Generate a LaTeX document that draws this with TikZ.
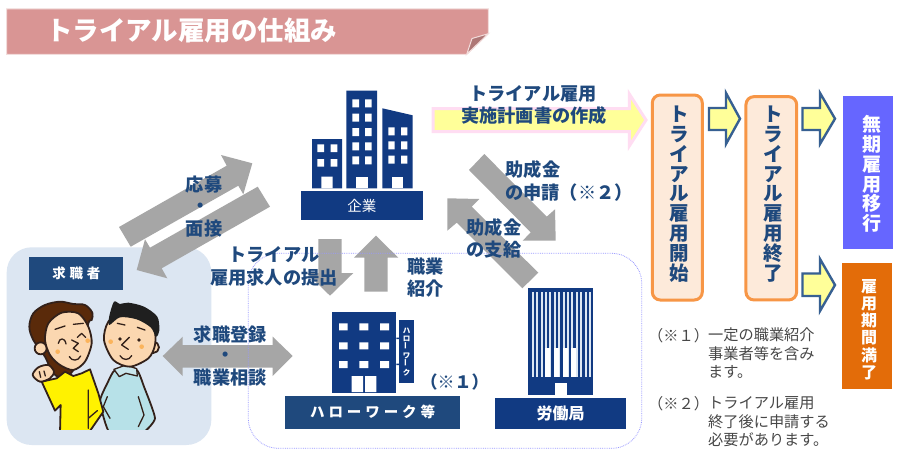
\documentclass[tikz,border=0pt]{standalone}
\usepackage{fontspec}
\setmainfont{Noto Sans CJK JP}
\definecolor{navy}{HTML}{113A82}
\definecolor{lab}{HTML}{1F497D}
\definecolor{grayarrow}{HTML}{A6A6A6}
\definecolor{pinkline}{HTML}{FFDDF2}
\definecolor{paleyellow}{HTML}{FFFF99}
\definecolor{arrowblue}{HTML}{376092}
\definecolor{skin}{HTML}{FBD7B0}
\definecolor{ink}{HTML}{33211A}
\definecolor{bannerfill}{HTML}{D99594}
\definecolor{bannerline}{HTML}{F2DCDB}
\definecolor{bannerfold}{HTML}{AE7776}
\definecolor{panelblue}{HTML}{DCE6F2}
\definecolor{shirtblue}{HTML}{B7E1E8}
\definecolor{collarblue}{HTML}{C9E6EC}
\definecolor{cheek}{HTML}{FBB45C}
\definecolor{hairbrown}{HTML}{5A2A0A}
\definecolor{shirtyellow}{HTML}{FFF200}
\definecolor{framedot}{HTML}{9999FF}
\definecolor{stagefill}{HTML}{FDEADA}
\definecolor{stageline}{HTML}{F79646}
\definecolor{permblue}{HTML}{6666FF}
\definecolor{expireorange}{HTML}{E36C09}
\tikzset{
  gray arrow/.style={fill=grayarrow,draw=none},
  label text/.style={text=lab,font=\bfseries\fontsize{18.2}{22}\selectfont,inner sep=0pt},
  note text/.style={text=black!72,font=\fontsize{15.2}{18.4}\selectfont,inner sep=0pt,anchor=north west,align=left},
  bldg/.style={fill=navy,draw=none},
  win/.style={fill=white,draw=none},
  flow arrow/.style={fill=paleyellow,draw=arrowblue,line width=2.4pt,miter limit=10},
  stack/.style={align=center,inner sep=0pt,text=lab},
  ink line/.style={draw=ink,line width=1.8pt,line join=round,line cap=round},
  ink fine/.style={draw=ink,line width=1.3pt,line join=round,line cap=round},
}
\begin{document}
\begin{tikzpicture}[x=1pt,y=-1pt]
\useasboundingbox (0,0) rectangle (909,460);
\fill[white] (0,0) rectangle (909,460);

% title banner
\filldraw[fill=bannerfill,draw=bannerline,line width=1pt] (6.7,9) -- (488.3,9) -- (488.3,33.7) -- (466.7,54.3) -- (6.7,54.3) -- cycle;
\filldraw[fill=bannerfold,draw=bannerline,line width=1pt] (466.7,54.3) -- (472,38.5) -- (488.3,33.7) -- cycle;
\node[anchor=west,text=white,font=\bfseries\fontsize{26.5}{30}\selectfont,inner sep=0pt] (title) at (46,31) {トライアル雇用の仕組み};

% job seeker panel
\fill[panelblue,rounded corners=25pt] (6.7,247.3) rectangle (211.3,445);
\node[fill=lab,minimum width=94pt,minimum height=32.4pt,inner sep=0pt,text=white,font=\bfseries\fontsize{13.5}{16}\selectfont] (seeker) at (76.3,273.5) {\addfontfeature{LetterSpace=28}求職者};

% people
\begin{scope}[shift={(20,290)},x=0.3333pt,y=-0.3333pt]
\clip (0,0) rectangle (450,418);
% man body
\filldraw[fill=shirtblue,ink line] plot[smooth cycle,tension=0.3] coordinates {(285,240) (350,240) (372,290) (405,385) (365,430) (270,430) (240,335) (262,280)};
\draw[ink fine] (355,320) -- (372,375) -- (355,410);
\draw[ink fine] (262,320) -- (250,350) -- (270,385);
\filldraw[fill=collarblue,ink fine] (282,238) -- (298,260) -- (318,250) -- (352,258) -- (350,236) -- (318,225) -- cycle;
% man head
\filldraw[fill=skin,ink line] (400,172) circle (17);
\filldraw[fill=skin,ink line] plot[smooth cycle] coordinates {(252,150) (265,95) (310,65) (365,72) (402,115) (405,165) (385,205) (330,230) (280,210)};
\fill[black!88] plot[smooth cycle,tension=0.5] coordinates {(268,78) (282,35) (300,42) (325,38) (372,50) (412,80) (418,122) (408,140) (392,112) (350,88) (300,82) (268,105)};
\fill[cheek] (272,155) circle (7) (365,170) circle (7);
\fill[ink] (300,147) circle (5.5) (357,150) circle (5.5);
\draw[ink fine] (292,100) -- (315,105) (352,112) -- (375,120) (328,142) -- (305,165) -- (325,178);
\draw[ink fine] (300,197) .. controls (308,212) and (328,212) .. (335,197);
% woman back hair
\filldraw[fill=hairbrown,ink line] plot[smooth cycle,tension=0.55] coordinates {(28,110) (40,70) (75,45) (120,35) (160,42) (195,45) (217,68) (215,90) (205,100) (190,190) (140,262) (100,250) (75,200) (40,150)};
% woman body
\filldraw[fill=shirtyellow,ink line] (65,275) -- (105,362) -- (122,345) -- (120,430) -- (205,430) -- (250,365) -- (235,310) -- (210,238) -- (185,250) -- (160,258) -- (135,245) -- (110,265) -- cycle;
\draw[ink fine] (205,300) -- (205,415) (205,385) -- (232,362);
% woman head
\filldraw[fill=skin,ink line] (62,175) circle (18);
\filldraw[fill=skin,ink line] plot[smooth cycle] coordinates {(75,150) (85,100) (125,68) (175,70) (205,110) (215,160) (195,215) (160,240) (120,225) (90,195)};
\fill[cheek] (113,185) circle (7) (203,152) circle (7);
\draw[ink fine] (105,118) -- (135,108) (160,103) -- (190,100) (172,142) -- (185,130) -- (197,142);
\draw[ink fine] (115,160) .. controls (118,142) and (135,142) .. (138,162);
\draw[ink fine] (155,150) -- (175,160) -- (160,175) -- (175,185);
\draw[ink fine] (148,200) .. controls (155,214) and (175,214) .. (182,198);
% fist
\filldraw[fill=skin,ink line] plot[smooth cycle] coordinates {(38,255) (55,232) (85,225) (102,245) (90,265) (60,275)};
\draw[ink fine] (58,245) -- (62,262) (72,243) -- (76,258);
\end{scope}

% gray block arrows
\fill[gray arrow] (119,227) -- (226.7,165.7) -- (221,155) -- (252.3,163.3) -- (243.3,194.3) -- (238.3,185.7) -- (130.7,246.7) -- cycle;
\fill[gray arrow] (257.7,186.7) -- (150,247.7) -- (145,239.3) -- (136.7,270) -- (167.3,278.3) -- (161.7,268.3) -- (270,206.7) -- cycle;
\fill[gray arrow] (318.3,239) -- (341.7,239) -- (341.7,273) -- (353.3,273) -- (330,295.7) -- (306.7,273) -- (318.3,273) -- cycle;
\fill[gray arrow] (376,235.7) -- (398.3,257.7) -- (387.7,257.7) -- (387.7,291.7) -- (364.3,291.7) -- (364.3,257.7) -- (354,257.7) -- cycle;
\fill[gray arrow] (484.3,154) -- (546.7,216.7) -- (555,209.3) -- (555.7,240.7) -- (522.7,240.7) -- (530.7,232.3) -- (469,170) -- cycle;
\fill[gray arrow] (447.3,198.3) -- (479.3,199) -- (471.7,206.7) -- (538.3,272.7) -- (522.3,288.3) -- (456.7,222.7) -- (447.3,230.7) -- cycle;
\fill[gray arrow] (162.7,356) -- (182.7,336.7) -- (182.7,345) -- (272.7,345) -- (272.7,336.7) -- (292.7,356) -- (272.7,376) -- (272.7,367.7) -- (182.7,367.7) -- (182.7,376) -- cycle;

% dotted frame
\draw[framedot,line width=0.8pt,densely dotted,rounded corners=30pt] (248.3,253.3) rectangle (641.7,448.3);

% company building
\fill[bldg] (312,139) rectangle (342,188.3) (346.3,90.7) rectangle (377,188.3);
\fill[bldg] (382.3,108.3) -- (412.7,115.3) -- (412.7,188.3) -- (382.3,188.3) -- cycle;
\fill[win] (317.3,144.3) rectangle (324,152) (330.7,144.3) rectangle (337.3,152) (317.3,159) rectangle (324,166.7) (330.7,159) rectangle (337.3,166.7) (321.3,176.7) rectangle (332.7,188.3);
\foreach \yy in {99.3,113.7,128,142.3,156.3}{\fill[win] (352.3,\yy) rectangle +(6.7,8) (365,\yy) rectangle +(6.7,8);}
\fill[win] (355.7,176.7) rectangle (367.7,188.3);
\foreach \yy in {127.3,141.3,155.7}{\fill[win] (388.3,\yy) rectangle +(6.4,8) (401,\yy) rectangle +(6.4,8);}
\fill[win] (391.7,176.7) rectangle (403.3,188.3);
\node[fill=navy,minimum width=121.7pt,minimum height=29.3pt,inner sep=0pt,text=white,font=\fontsize{14.5}{16}\selectfont] (company) at (361.85,205.65) {企業};

% Hello Work building
\fill[bldg] (331.7,311.7) rectangle (396.3,393);
\foreach \yy in {323.3,342.3,361}{\fill[win] (339,\yy) rectangle +(8.7,7) (359.3,\yy) rectangle +(9,7) (380,\yy) rectangle +(9,7);}
\fill[win] (351.7,376) rectangle (363,392) (365,376) rectangle (376.3,392);
\fill[bldg] (396.3,337.5) rectangle (399,339) (396.3,363.5) rectangle (399,365);
\node[fill=navy,minimum width=15.3pt,minimum height=63.3pt,inner sep=0pt,text=white,align=center,font=\bfseries\fontsize{7.5}{8.4}\selectfont] (hwsign) at (406.65,351.65) {ハ\\ロ\\\rotatebox{90}{ー}\\ワ\\\rotatebox{90}{ー}\\ク};
\node[fill=lab,minimum width=174.7pt,minimum height=33pt,inner sep=0pt,text=white,font=\bfseries\fontsize{14.5}{16}\selectfont] (hw) at (372.65,412.2) {\addfontfeature{LetterSpace=27}ハローワーク等};
\node[label text,font=\bfseries\fontsize{17}{20}\selectfont] (n1) at (454.5,381.7) {（※１）};

% Labour bureau building
\fill[bldg] (527.7,288.3) rectangle (593.3,395);
\foreach \i in {0,...,13}{\fill[panelblue] ({531.7+4.42*\i},291.5) rectangle +(2,85.8);}
\foreach \xx in {545.3,554,562.7,571.3}{\fill[win] (\xx,348) rectangle +(5,29.3);}
\fill[win] (555,382.7) rectangle (566.7,395);
\node[fill=navy,minimum width=130.7pt,minimum height=31.6pt,inner sep=0pt,text=white,font=\bfseries\fontsize{16}{18}\selectfont] (bureau) at (560.65,413.5) {労働局};

% plan arrow
\filldraw[fill=paleyellow,draw=pinkline,line width=3pt,miter limit=10] (433,108.5) -- (629.3,108.5) -- (629.3,94) -- (646,120) -- (629.3,146) -- (629.3,131.5) -- (433,131.5) -- cycle;

% labels
\node[label text] (l1) at (533,94) {トライアル雇用};
\node[label text] (l2) at (534,116) {実施計画書の作成};
\node[label text,anchor=west] (l3) at (505.5,169.3) {助成金};
\node[label text,anchor=west] (l4) at (505,192.3) {の申請（※２）};
\node[label text,anchor=west] (l5) at (466.5,227.3) {助成金};
\node[label text,anchor=west] (l6) at (466.5,250) {の支給};
\node[label text] (l7) at (204,185) {応募};
\node[label text] (l8) at (200.7,207.7) {・};
\node[label text] (l9) at (204,228.3) {面接};
\node[label text] (l10) at (274,255) {トライアル};
\node[label text] (l11) at (274,277.3) {雇用求人の提出};
\node[label text] (l12) at (425.8,266.7) {職業};
\node[label text] (l13) at (425.8,288.3) {紹介};
\node[label text] (l14) at (230.3,334.3) {求職登録};
\node[label text] (l15) at (226,356.7) {・};
\node[label text] (l16) at (230.3,377.7) {職業相談};

% stage boxes
\node[rounded corners=8pt,fill=stagefill,draw=stageline,line width=3pt,minimum width=50pt,minimum height=205pt,inner sep=0pt] (start) at (677.3,197.5) {};
\node[rounded corners=8pt,fill=stagefill,draw=stageline,line width=3pt,minimum width=50.7pt,minimum height=203.3pt,inner sep=0pt] (end) at (771.3,198.3) {};
\node[stack,font=\bfseries\fontsize{19.5}{19.8}\selectfont] (starttxt) at (679,194) {ト\\ラ\\イ\\ア\\ル\\雇\\用\\開\\始};
\node[stack,font=\bfseries\fontsize{19.5}{19.8}\selectfont] (endtxt) at (773,194) {ト\\ラ\\イ\\ア\\ル\\雇\\用\\終\\了};

% flow arrows
\filldraw[flow arrow] (709,108) -- (726,108) -- (726,93) -- (740,118.7) -- (726,144) -- (726,130) -- (709,130) -- cycle;
\filldraw[flow arrow] (802.5,108) -- (820,108) -- (820,93) -- (835,118.7) -- (820,144) -- (820,130) -- (802.5,130) -- cycle;
\filldraw[flow arrow] (802.5,273.5) -- (820,273.5) -- (820,259) -- (835,285) -- (820,311) -- (820,296) -- (802.5,296) -- cycle;

% outcome boxes
\node[fill=permblue,minimum width=49.4pt,minimum height=153.6pt,inner sep=0pt] (perm) at (868,172.5) {};
\node[text=white,align=center,inner sep=0pt,font=\bfseries\fontsize{19}{19.7}\selectfont] (permtxt) at (871.5,174) {無\\期\\雇\\用\\移\\行};
\node[fill=expireorange,minimum width=49.7pt,minimum height=125.4pt,inner sep=0pt] (expire) at (867.2,326) {};
\node[text=white,align=center,inner sep=0pt,font=\bfseries\fontsize{16}{17.2}\selectfont] (expiretxt) at (869,329.5) {雇\\用\\期\\間\\満\\了};

% notes
\node[note text] (m1) at (648,328) {（※１）};
\node[note text] (t1) at (708,328) {一定の職業紹介\\事業者等を含み\\ます。};
\node[note text] (m2) at (648,396.5) {（※２）};
\node[note text] (t2) at (708,396.5) {トライアル雇用\\終了後に申請する\\必要があります。};
\end{tikzpicture}
\end{document}
